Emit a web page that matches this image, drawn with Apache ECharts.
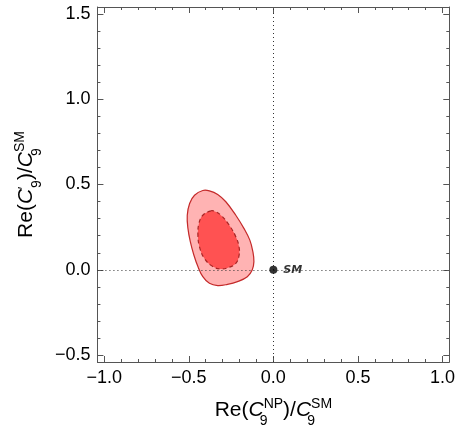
<!DOCTYPE html>
<html>
<head>
<meta charset="utf-8">
<script src="https://cdn.jsdelivr.net/npm/echarts@6/dist/echarts.min.js"></script>
<style>
  html, body { margin: 0; padding: 0; background: #fff; }
  #chart { width: 458px; height: 433px; }
</style>
</head>
<body>
<div id="chart"></div>
<script>
// Axis ranges and ticks
const xRange = [-1.04, 1.04];
const yRange = [-0.54, 1.54];
const xMajorTicks = [-1, -0.5, 0, 0.5, 1];
const xMinorTicks = [-0.9, -0.8, -0.7, -0.6, -0.4, -0.3, -0.2, -0.1, 0.1, 0.2, 0.3, 0.4, 0.6, 0.7, 0.8, 0.9];
const yMajorTicks = [-0.5, 0, 0.5, 1, 1.5];
const yMinorTicks = [-0.4, -0.3, -0.2, -0.1, 0.1, 0.2, 0.3, 0.4, 0.6, 0.7, 0.8, 0.9, 1.1, 1.2, 1.3, 1.4];

// Allowed region boundaries (Re C9NP/C9SM, Re C9'/C9SM)
const outerContour = [
  [-0.417, 0.465], [-0.466, 0.437], [-0.495, 0.389], [-0.509, 0.320], [-0.505, 0.243],
  [-0.491, 0.165], [-0.470, 0.087], [-0.446, 0.019], [-0.417, -0.040], [-0.378, -0.079],
  [-0.329, -0.092], [-0.271, -0.085], [-0.212, -0.069], [-0.154, -0.040], [-0.125, -0.001],
  [-0.115, 0.048], [-0.121, 0.106], [-0.139, 0.174], [-0.174, 0.243], [-0.222, 0.320],
  [-0.281, 0.399], [-0.329, 0.442], [-0.378, 0.463]
];
const innerContour = [
  [-0.368, 0.346], [-0.417, 0.320], [-0.440, 0.272], [-0.446, 0.204], [-0.437, 0.136],
  [-0.408, 0.067], [-0.358, 0.019], [-0.310, 0.005], [-0.261, 0.015], [-0.222, 0.038],
  [-0.203, 0.083], [-0.203, 0.136], [-0.222, 0.194], [-0.261, 0.262], [-0.310, 0.320],
  [-0.349, 0.344]
];
// Standard Model point
const smPoint = [[0, 0]];
const smLabel = 'SM';

const frameColor = '#555';
const font = '"Liberation Sans", Arial, Helvetica, sans-serif';
const fmt = v => (v < 0 ? '\u2212' : '') + Math.abs(v).toFixed(1);

// Rich-text styles for axis titles: main text, italic symbol, subscripts and superscripts
const small = { fontFamily: font, fontSize: 14, color: '#000', lineHeight: 16 };
const titleRich = {
  n: { fontFamily: font, fontSize: 21, color: '#000', lineHeight: 40 },
  i: { fontFamily: font, fontSize: 21, fontStyle: 'italic', color: '#000', lineHeight: 40 },
  sb: Object.assign({}, small, { padding: [22, 0, 0, 0] }),
  sbz: Object.assign({}, small, { padding: [22, 0, 0, 0], width: 0, align: 'left' }),
  sp: Object.assign({}, small, { padding: [0, 0, 12, 0] }),
  prz: Object.assign({}, small, { padding: [0, 0, 4, 1], width: 0, align: 'left' })
};

function majorAxis(kind, position, ticks, range, showLabel, name, nameGap) {
  const ax = {
    type: 'value', gridIndex: 0, position: position,
    min: range[0], max: range[1],
    axisLine: { show: true, onZero: false, lineStyle: { color: frameColor, width: 1 } },
    axisTick: { show: true, inside: true, length: 6, customValues: ticks, lineStyle: { color: frameColor, width: 1 } },
    axisLabel: showLabel
      ? { show: true, customValues: ticks, formatter: fmt, margin: 7, fontFamily: font, fontSize: 18, color: '#000' }
      : { show: false },
    splitLine: { show: false }
  };
  if (name) {
    ax.name = name;
    ax.nameLocation = 'middle';
    ax.nameGap = nameGap;
    ax.nameTextStyle = { rich: titleRich };
    if (kind === 'y') ax.nameRotate = 90;
  }
  return ax;
}
function minorAxis(position, ticks, range) {
  return {
    type: 'value', gridIndex: 0, position: position,
    min: range[0], max: range[1],
    axisLine: { show: false, onZero: false },
    axisTick: { show: true, inside: true, length: 3, customValues: ticks, lineStyle: { color: frameColor, width: 1 } },
    axisLabel: { show: false },
    splitLine: { show: false }
  };
}

function contourSeries(points, fill, stroke, dash, z) {
  return {
    type: 'custom',
    coordinateSystem: 'cartesian2d',
    xAxisIndex: 0, yAxisIndex: 0,
    z: z,
    silent: true,
    data: points,
    renderItem: function (params, api) {
      if (params.dataIndex !== 0) return null;
      return {
        type: 'polygon',
        shape: { points: points.map(p => api.coord(p)), smooth: 0.4 },
        style: { fill: fill, stroke: stroke, lineWidth: 1.2, lineDash: dash }
      };
    }
  };
}

const chart = echarts.init(document.getElementById('chart'), null, { renderer: 'canvas' });
chart.setOption({
  animation: false,
  backgroundColor: '#fff',
  grid: { left: 96, top: 7, width: 356, height: 356, containLabel: false },
  xAxis: [
    majorAxis('x', 'bottom', xMajorTicks, xRange, true,
      '{n|Re(}{i|C}{sbz|9}{sp|NP}{n|)/}{i|C}{sbz|9}{sp|SM}', 28),
    minorAxis('bottom', xMinorTicks, xRange),
    majorAxis('x', 'top', xMajorTicks, xRange, false),
    minorAxis('top', xMinorTicks, xRange)
  ],
  yAxis: [
    majorAxis('y', 'left', yMajorTicks, yRange, true,
      '{n|Re(}{i|C}{prz|\u2032}{sb|9}{n|)/}{i|C}{sbz|9}{sp|SM}', 50),
    minorAxis('left', yMinorTicks, yRange),
    majorAxis('y', 'right', yMajorTicks, yRange, false),
    minorAxis('right', yMinorTicks, yRange)
  ],
  series: [
    contourSeries(outerContour, '#ffb3b3', '#c42a2a', null, 2),
    contourSeries(innerContour, '#ff5252', '#a82424', [4, 3], 3),
    {
      type: 'scatter',
      xAxisIndex: 0, yAxisIndex: 0,
      z: 5,
      data: smPoint,
      symbol: 'circle',
      symbolSize: 8,
      itemStyle: { color: '#000' },
      label: {
        show: true, position: 'right', distance: 6, formatter: smLabel,
        fontFamily: '"DejaVu Sans", sans-serif', fontStyle: 'italic', fontWeight: 'bold',
        fontSize: 11, color: '#000'
      },
      markLine: {
        silent: true,
        symbol: 'none',
        z: 4,
        label: { show: false },
        lineStyle: { type: [1, 3], color: '#333', width: 1 },
        data: [{ xAxis: 0 }, { yAxis: 0 }]
      }
    }
  ]
});
</script>
</body>
</html>
